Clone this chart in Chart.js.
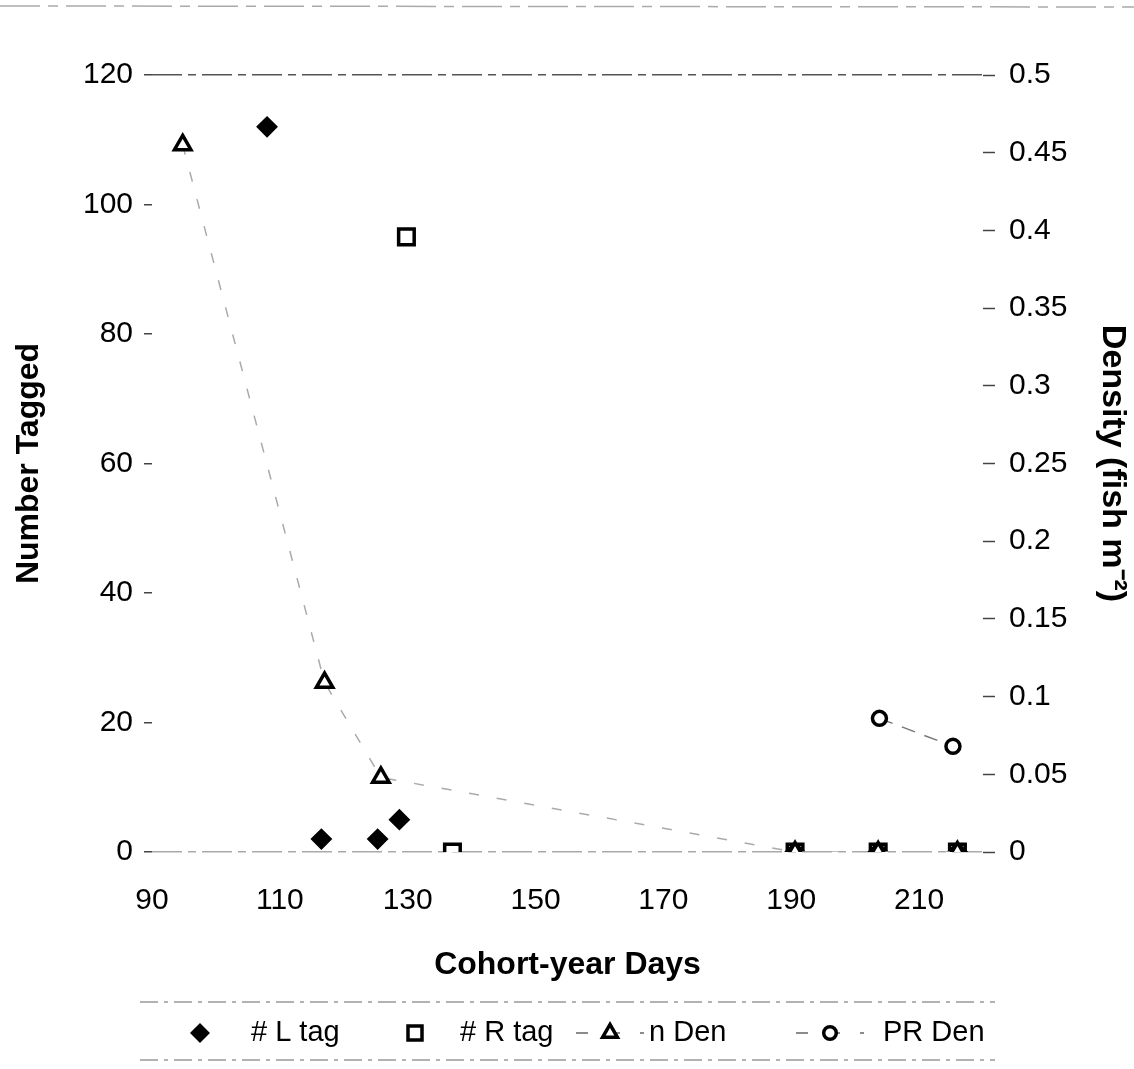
<!DOCTYPE html>
<html>
<head>
<meta charset="utf-8">
<script src="https://cdn.jsdelivr.net/npm/chart.js@4.4.1/dist/chart.umd.min.js"></script>
<style>
  html, body { margin: 0; padding: 0; background: #fff; }
  #wrap { width: 1134px; height: 1069px; }
</style>
</head>
<body>
<div id="wrap"><canvas id="myChart"></canvas></div>
<script>
// values
const xTickValues = [90, 110, 130, 150, 170, 190, 210];

const lTagDays = [108, 116.5, 125.3, 128.7, 190.6, 203.6, 216];
const lTagCount = [112, 2, 2, 5, 0, 0, 0];

const rTagDays = [129.8, 137, 190.6, 203.6, 216];
const rTagCount = [95, 0, 0, 0, 0];

const nDenDays = [94.8, 117, 125.8, 190.6, 203.6, 216];
const nDenDensity = [0.455, 0.109, 0.048, 0, 0, 0];

const prDenDays = [203.8, 215.3];
const prDenDensity = [0.086, 0.068];

const pts = (xs, ys) => xs.map((x, i) => ({ x: x, y: ys[i] }));

const FONT = "'Liberation Sans', Arial, sans-serif";

// legend under the x title, boxed by two faint rules like the scan
const boxLegend = {
    id: 'boxLegend',
    afterDraw(chart) {
        const ctx = chart.ctx;
        const slots = [[200, 251], [415, 460], [610, 649], [830, 883]];
        const y = 1033;
        ctx.save();
        ctx.strokeStyle = '#999';
        ctx.lineWidth = 1.5;
        ctx.setLineDash([18, 6, 4, 6]);
        [1002, 1060].forEach(ly => {
            ctx.beginPath();
            ctx.moveTo(140, ly);
            ctx.lineTo(995, ly);
            ctx.stroke();
        });
        // scanner edge at the very top
        ctx.strokeStyle = '#aaa';
        ctx.setLineDash([40, 8, 10, 8]);
        ctx.beginPath();
        ctx.moveTo(0, 6);
        ctx.lineTo(1134, 7);
        ctx.stroke();

        chart.data.datasets.forEach((ds, i) => {
            const [mx, tx] = slots[i];
            if (ds.showLine) {
                ctx.strokeStyle = '#666';
                ctx.lineWidth = 1.5;
                ctx.setLineDash([12, 20]);
                ctx.beginPath();
                ctx.moveTo(mx - 34, y);
                ctx.lineTo(mx + 34, y);
                ctx.stroke();
            }
            ctx.setLineDash([]);
            ctx.fillStyle = ds.pointBackgroundColor;
            ctx.strokeStyle = ds.pointBorderColor;
            ctx.lineWidth = ds.pointBorderWidth;
            Chart.helpers.drawPoint(ctx, {
                pointStyle: ds.pointStyle,
                radius: ds.pointRadius * 0.9,
                rotation: 0,
                borderWidth: ds.pointBorderWidth
            }, mx, y);
            ctx.fillStyle = '#000';
            ctx.font = '29px ' + FONT;
            ctx.textAlign = 'left';
            ctx.textBaseline = 'middle';
            ctx.fillText(ds.label, tx, y);
        });
        ctx.restore();
    }
};

new Chart(document.getElementById('myChart'), {
    type: 'scatter',
    data: {
        datasets: [{
            label: '# L tag',
            data: pts(lTagDays, lTagCount),
            yAxisID: 'y',
            order: 3,
            pointStyle: 'rectRot',
            pointRadius: 9.5,
            pointBackgroundColor: '#000',
            pointBorderColor: '#000',
            pointBorderWidth: 2,
            showLine: false
        }, {
            label: '# R tag',
            data: pts(rTagDays, rTagCount),
            yAxisID: 'y',
            order: 4,
            pointStyle: 'rect',
            pointRadius: 11,
            pointBackgroundColor: '#fff',
            pointBorderColor: '#000',
            pointBorderWidth: 3.5,
            showLine: false
        }, {
            label: 'n Den',
            data: pts(nDenDays, nDenDensity),
            yAxisID: 'y1',
            order: 2,
            pointStyle: 'triangle',
            pointRadius: 9.5,
            pointBackgroundColor: '#fff',
            pointBorderColor: '#000',
            pointBorderWidth: 3.5,
            showLine: true,
            borderColor: '#aaa',
            borderWidth: 1.5,
            borderDash: [10, 18]
        }, {
            label: 'PR Den',
            data: pts(prDenDays, prDenDensity),
            yAxisID: 'y1',
            order: 1,
            pointStyle: 'circle',
            pointRadius: 7,
            pointBackgroundColor: '#fff',
            pointBorderColor: '#000',
            pointBorderWidth: 3.5,
            showLine: true,
            borderColor: '#777',
            borderWidth: 1.5,
            borderDash: [14, 10]
        }]
    },
    options: {
        responsive: true,
        maintainAspectRatio: false,
        animation: false,
        layout: { padding: { top: 75, bottom: 77, left: 0, right: 0 } },
        plugins: {
            legend: { display: false },
            tooltip: { enabled: false }
        },
        scales: {
            x: {
                type: 'linear',
                min: 90,
                max: 220,
                afterBuildTicks: (s) => { s.ticks = xTickValues.map(v => ({ value: v })); },
                afterFit: (s) => { s.height = 140; },
                grid: { display: false, drawTicks: false },
                border: { display: false },
                ticks: { color: '#000', padding: 31, font: { family: FONT, size: 30 } },
                title: {
                    display: true,
                    text: 'Cohort-year Days',
                    color: '#000',
                    padding: { top: 0, bottom: 8 },
                    font: { family: FONT, size: 32, weight: 'bold' }
                }
            },
            y: {
                position: 'left',
                min: 0,
                max: 120,
                afterFit: (s) => { s.width = 152; },
                ticks: { stepSize: 20, color: '#000', padding: 11, font: { family: FONT, size: 30 } },
                grid: {
                    color: (c) => c.index === 6 ? '#555' : (c.index === 0 ? '#aaa' : 'rgba(0,0,0,0)'),
                    lineWidth: 1.5,
                    tickLength: 8,
                    tickColor: '#444',
                    tickWidth: 1.5
                },
                border: { display: false, dash: [30, 6, 8, 6] },
                title: {
                    display: true,
                    text: 'Number Tagged',
                    color: '#000',
                    padding: { top: 10, bottom: 0 },
                    font: { family: FONT, size: 32, weight: 'bold' }
                }
            },
            y1: {
                position: 'right',
                min: 0,
                max: 0.5,
                afterFit: (s) => { s.width = 151; },
                ticks: {
                    stepSize: 0.05,
                    color: '#000',
                    padding: 14,
                    font: { family: FONT, size: 30 },
                    callback: (v) => String(Number(v.toFixed(2)))
                },
                grid: {
                    drawOnChartArea: false,
                    tickLength: 12,
                    tickColor: '#444',
                    tickWidth: 1.5
                },
                border: { display: false },
                title: {
                    display: true,
                    text: 'Density (fish m⁻²)',
                    color: '#000',
                    padding: { top: 1, bottom: 0 },
                    font: { family: FONT, size: 34, weight: 'bold' }
                }
            }
        }
    },
    plugins: [boxLegend]
});
</script>
</body>
</html>
